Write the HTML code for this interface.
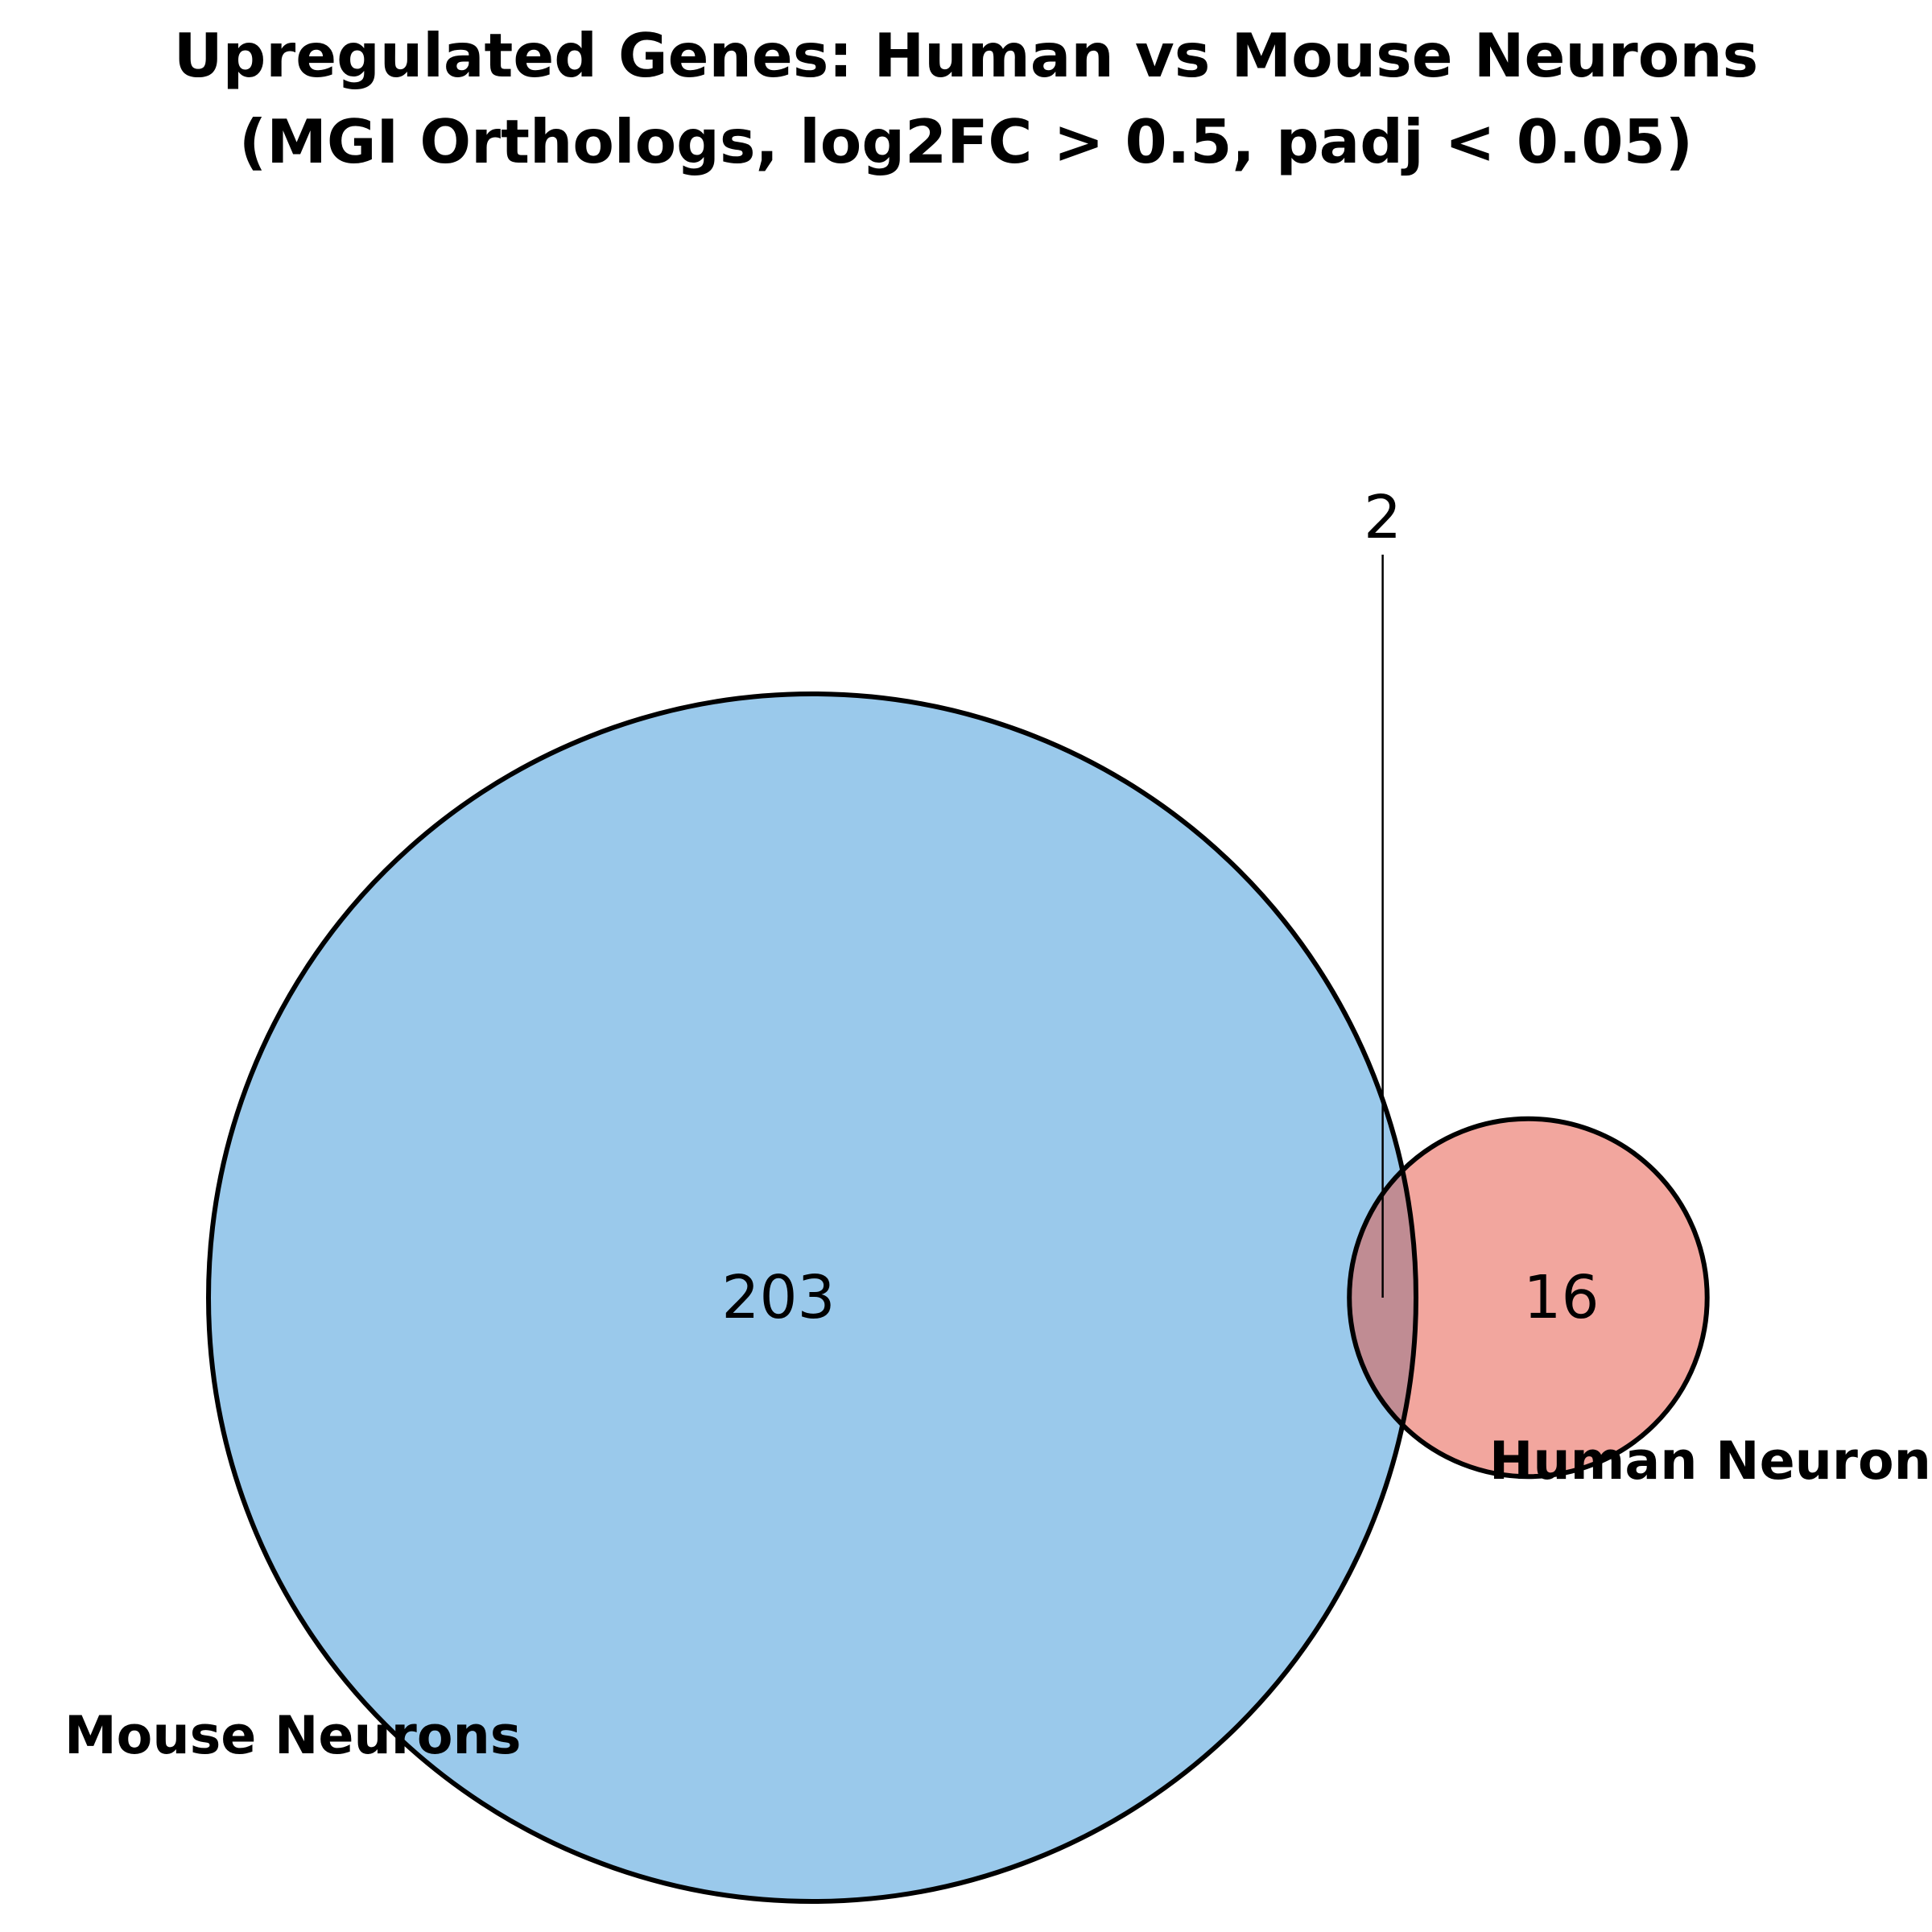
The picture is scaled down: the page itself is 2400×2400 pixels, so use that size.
<!DOCTYPE html>
<html><head><meta charset="utf-8">
<style>
html,body{margin:0;padding:0;background:#fff;width:2400px;height:2400px;overflow:hidden}
svg{display:block}
text{font-family:"DejaVu Sans","Liberation Sans",sans-serif}
</style></head>
<body>
<svg id="chart" width="2400" height="2400" viewBox="0 0 2400 2400">
<text x="1200" y="95" text-anchor="middle" font-size="75" font-weight="bold">Upregulated Genes: Human vs Mouse Neurons</text>
<text x="1200" y="202" text-anchor="middle" font-size="75" font-weight="bold">(MGI Orthologs, log2FC &gt; 0.5, padj &lt; 0.05)</text>
<g id="venn"></g>
</svg>
<script>
const setNames = ["Mouse Neurons", "Human Neurons"];
const setOnlyCounts = [203, 16];
const overlapCount = [2];
const setColors = ["#9ac9eb", "#f2a69e"];

const NS = "http://www.w3.org/2000/svg";
const g = document.getElementById("venn");
const totals = [setOnlyCounts[0] + overlapCount[0], setOnlyCounts[1] + overlapCount[0]];
const rScale = 750 / Math.sqrt(totals[0]);
const r1 = rScale * Math.sqrt(totals[0]);
const r2 = rScale * Math.sqrt(totals[1]);
const cy = 1612;
const cx1 = 1009;
const cx2 = cx1 + r1 + r2 * 0.65 - 5;

function mk(tag, attrs) { const e = document.createElementNS(NS, tag); for (const k in attrs) e.setAttribute(k, attrs[k]); g.appendChild(e); return e; }

const defs = mk("defs", {});
const cp = document.createElementNS(NS, "clipPath"); cp.setAttribute("id", "clipA");
const cc = document.createElementNS(NS, "circle"); cc.setAttribute("cx", cx1); cc.setAttribute("cy", cy); cc.setAttribute("r", r1);
cp.appendChild(cc); defs.appendChild(cp);

const c1 = mk("circle", {cx: cx1, cy: cy, r: r1, fill: setColors[0]});


const c2 = mk("circle", {cx: cx2, cy: cy, r: r2, fill: setColors[1]});


const ov = mk("circle", {cx: cx2, cy: cy, r: r2, fill: "#c08c93", "clip-path": "url(#clipA)"});


const o1 = mk("circle", {cx: cx1, cy: cy, r: r1, fill: "none", stroke: "#000", "stroke-width": 6});


const o2 = mk("circle", {cx: cx2, cy: cy, r: r2, fill: "none", stroke: "#000", "stroke-width": 6});



const lensX = ((cx2 - r2) + (cx1 + r1)) / 2;
const ln = mk("line", {x1: lensX, y1: 689, x2: lensX, y2: cy, stroke: "#000", "stroke-width": 2.5});



function txt(s, x, y, size, weight, anchor) {
  const t = mk("text", {x: x, y: y, "font-size": size, "font-weight": weight, "text-anchor": anchor, "dominant-baseline": "central"});
  t.textContent = s; return t;
}
const t1 = txt(String(setOnlyCounts[0]), cx1 - 42, cy, 74, "normal", "middle");


const t2 = txt(String(setOnlyCounts[1]), cx2 + 41, cy, 74, "normal", "middle");


const t3 = txt(String(overlapCount[0]), lensX, 643, 74, "normal", "middle");


const l1 = mk("text", {x: 80, y: 2178, "font-size": 65, "font-weight": "bold"});
l1.textContent = setNames[0];


const l2 = mk("text", {x: 1850, y: 1837, "font-size": 65, "font-weight": "bold"});
l2.textContent = setNames[1];


</script>
</body></html>
